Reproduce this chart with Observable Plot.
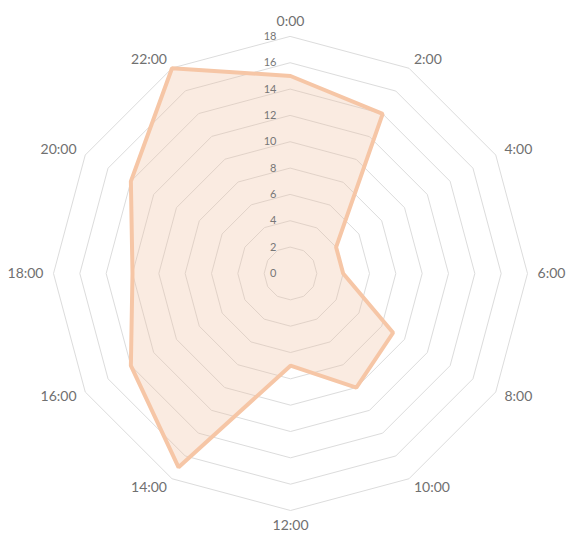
<!DOCTYPE html>
<html>
<head>
<meta charset="utf-8">
<script src="https://cdn.jsdelivr.net/npm/d3@7"></script>
<script src="https://cdn.jsdelivr.net/npm/@observablehq/plot@0.6"></script>
<style>
  html, body { margin: 0; padding: 0; background: #fff; }
  #chart svg { display: block; }
</style>
</head>
<body>
<div id="chart"></div>
<script>
const hours = ["0:00","2:00","4:00","6:00","8:00","10:00","12:00","14:00","16:00","18:00","20:00","22:00"];
const values = [15, 14, 4, 4, 9, 10, 7, 17, 14, 12, 14, 18];
const ticks = [0, 2, 4, 6, 8, 10, 12, 14, 16, 18];

const n = hours.length;
const ang = i => (i / n) * 2 * Math.PI;
const px = (r, i) => r * Math.sin(ang(i));
const py = (r, i) => r * Math.cos(ang(i));

const points = values.map((v, i) => ({hour: hours[i], x: px(v, i), y: py(v, i)}));
const rings = ticks.filter(t => t > 0).flatMap(t => hours.map((h, i) => ({tick: t, x: px(t, i), y: py(t, i)})));
const labelR = 18.76;
const labels = hours.map((h, i) => ({hour: h, i, x: px(labelR, i), y: py(labelR, i)}));
const tickLabels = ticks.map(t => ({t, x: 0, y: t}));

const k = 237 / 18;
const font = "Lato, 'Open Sans', sans-serif";
const chart = Plot.plot({
  width: 568,
  height: 533,
  marginLeft: 290 - 20 * k,
  marginRight: 568 - (290 + 20 * k),
  marginTop: 273 - 20 * k,
  marginBottom: 533 - (273 + 19 * k),
  x: {domain: [-20, 20], axis: null},
  y: {domain: [-19, 20], axis: null},
  style: {fontFamily: font, background: "#fff"},
  marks: [
    Plot.line(rings, {x: "x", y: "y", z: "tick", curve: "linear-closed", stroke: "#dcdcdc", strokeWidth: 1}),
    Plot.line(points, {x: "x", y: "y", curve: "linear-closed", fill: "#efbd9c", fillOpacity: 0.3, stroke: "#f6c6a6", strokeWidth: 4, strokeLinejoin: "miter"}),
    Plot.text(tickLabels, {x: "x", y: "y", text: d => String(d.t), textAnchor: "end", dx: -14, fontSize: 11, fill: "#777"}),
    Plot.text(labels, {filter: d => d.i === 0, x: "x", y: "y", text: "hour", textAnchor: "middle", lineAnchor: "bottom", fontSize: 14, fill: "#707070"}),
    Plot.text(labels, {filter: d => d.i === 6, x: "x", y: "y", text: "hour", textAnchor: "middle", lineAnchor: "top", fontSize: 14, fill: "#707070"}),
    Plot.text(labels, {filter: d => d.i > 0 && d.i < 6, x: "x", y: "y", text: "hour", textAnchor: "start", lineAnchor: "middle", fontSize: 14, fill: "#707070"}),
    Plot.text(labels, {filter: d => d.i > 6, x: "x", y: "y", text: "hour", textAnchor: "end", lineAnchor: "middle", fontSize: 14, fill: "#707070"})
  ]
});
document.getElementById("chart").appendChild(chart);
</script>
</body>
</html>
